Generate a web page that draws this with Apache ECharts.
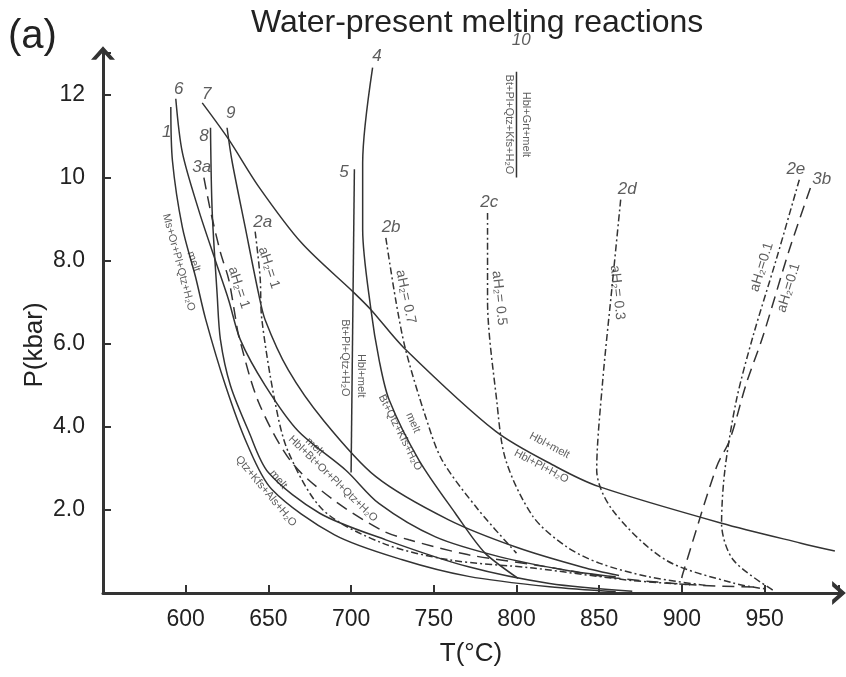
<!DOCTYPE html>
<html>
<head>
<meta charset="utf-8">
<script src="https://cdn.jsdelivr.net/npm/echarts@6/dist/echarts.min.js"></script>
<style>
  html, body { margin: 0; padding: 0; background: #fff; }
  #chart { width: 846px; height: 677px; }
</style>
</head>
<body>
<div id="chart"></div>
<script>
// curves as [T (°C), P (kbar)]
const curve1 = [[591, 11.7], [592, 10.4], [598, 8.8], [606, 7.6], [612, 6.6], [624, 5.0], [637, 3.6], [652, 2.5], [690, 1.4], [731, 0.8], [771, 0.4], [820, 0.15], [860, 0.03]]
const curve6 = [[594, 11.9], [598, 10.6], [608, 9.2], [618, 8.0], [626, 7.05], [633, 6.1], [648, 5.0], [668, 3.9], [697, 2.95], [717, 2.15], [751, 1.35], [790, 0.87], [830, 0.55], [860, 0.39]]
const curve7 = [[610, 11.8], [626, 10.92], [644, 9.79], [670, 8.43], [702, 7.22], [712, 6.82], [732, 5.9], [787.5, 3.89], [824, 3.04], [850, 2.56], [924, 1.68], [972, 1.2], [992.5, 1.01]]
const curve8 = [[615, 11.2], [616, 9.2], [619, 7.2], [621, 6.1], [627, 5.0], [638, 3.9], [650, 2.9], [681, 1.92], [721, 1.28], [771, 0.63], [820, 0.23], [870, 0.04]]
const curve9 = [[625, 11.2], [628, 10.4], [636, 8.8], [644, 7.22], [648, 6.58], [662, 5.37], [683, 4.17], [715, 2.8], [759, 1.76], [800, 1.1], [840, 0.62], [862, 0.42]]
const curve4 = [[713, 12.65], [707, 10.35], [707, 8.75], [712, 6.82], [717, 5.6], [723, 4.65], [741, 3.2], [763, 1.92], [781, 0.96], [801, 0.35]]
const line5 = [[702, 10.2], [700, 2.9]]
const line10 = [[800, 12.55], [800, 10.0]]
const curve3a = [[611, 10.0], [615, 9.2], [621, 8.2], [626, 7.55], [630, 6.65], [632, 6.2], [644, 4.6], [664, 3.15], [689, 2.25], [719, 1.5], [735, 1.28], [771, 0.92], [812, 0.67], [860, 0.36], [910, 0.19], [945, 0.14]]
const curve3b = [[977.7, 9.75], [965, 8.27], [949, 6.18], [939, 5.05], [929, 3.69], [921, 3.04], [900.6, 0.47], [899.6, 0.31]]
const curve2a = [[642, 8.7], [645, 7.6], [646, 6.6], [654, 4.6], [662, 3.4], [683, 2.0], [719, 1.2], [759, 0.8], [810, 0.6], [870, 0.3], [905, 0.2]]
const curve2b = [[721, 8.55], [727, 7.05], [733, 5.85], [745, 4.25], [755, 3.2], [777, 2.0], [800, 0.96]]
const curve2c = [[782.5, 9.15], [782.5, 7.05], [788, 4.65], [793.5, 3.2], [810, 1.84], [830, 1.12], [850, 0.72], [880, 0.39], [915, 0.18]]
const curve2d = [[863, 9.47], [858, 7.46], [852, 5.05], [848.5, 2.96], [858, 2.0], [890, 0.8], [931, 0.24], [950, 0.1]]
const curve2e = [[971, 9.95], [957, 8.02], [943, 6.18], [933, 4.65], [926, 2.96], [924, 1.68], [931, 0.8], [955, 0.07]]

// curve numbers: [text, T, P]
const curveNumbers = [
  ["1", 588.5, 11.08], ["6", 595.8, 12.12], ["7", 612.7, 12.0], ["8", 611, 11.0],
  ["9", 627.3, 11.54], ["3a", 609.7, 10.24], ["2a", 646.6, 8.92], ["4", 715.7, 12.92],
  ["5", 695.7, 10.12], ["2b", 724.2, 8.8], ["10", 802.9, 13.3], ["2c", 783.5, 9.4],
  ["2d", 867, 9.71], ["2e", 968.9, 10.19], ["3b", 984.6, 9.95],
]

// water activity labels: [text, T, P, rotation]
const activityLabels = [
  ["aH₂= 1", 650.3, 7.83, -72], ["aH₂= 1", 632.1, 7.35, -72],
  ["aH₂= 0.7", 733, 7.13, -78], ["aH₂= 0.5", 789.6, 7.1, -84],
  ["aH₂= 0.3", 861, 7.23, -84], ["aH₂=0.1", 948.3, 7.85, 73], ["aH₂=0.1", 964.6, 7.35, 73],
]

// reaction labels: [text, T, P, rotation]
const reactionLabels = [
  ["Ms+Or+Pl+Qtz+H₂O", 595.8, 7.96, -75], ["melt", 604.8, 7.98, -70],
  ["Bt+Pl+Qtz+H₂O", 696.3, 5.66, -90], ["Hbl+melt", 706, 5.23, -90],
  ["melt", 737.5, 4.1, -66], ["Bt+Qtz+Kfs+H₂O", 729.6, 3.86, -63],
  ["melt", 678, 3.52, -44], ["Hbl+Bt+Or+Pl+Qtz+H₂O", 689, 2.75, -44],
  ["melt", 656, 2.73, -50], ["Qtz+Kfs+Als+H₂O", 648.5, 2.45, -50],
  ["Hbl+melt", 820, 3.55, -28], ["Hbl+Pl+H₂O", 815, 3.05, -28],
  ["Hbl+Grt+melt", 806, 11.28, -90], ["Bt+Pl+Qtz+Kfs+H₂O", 795.6, 11.28, -90],
]

const INK = "#333"
const FONT = "Liberation Sans, Arial, sans-serif"

function curve(data, dash) {
  return {
    type: "line",
    data,
    smooth: 0.3,
    showSymbol: false,
    silent: true,
    lineStyle: { color: INK, width: 1.5, type: dash || "solid" },
  }
}

function labelSeries(list, size, italic) {
  return {
    type: "scatter",
    symbolSize: 1,
    clip: false,
    silent: true,
    itemStyle: { color: "rgba(0,0,0,0)" },
    label: {
      show: true,
      position: "inside",
      color: INK,
      fontFamily: FONT,
      fontSize: size,
      fontStyle: italic ? "italic" : "normal",
    },
    data: list.map((l) => ({
      value: [l[1], l[2]],
      label: { formatter: l[0], rotate: l[3] || 0 },
    })),
  }
}

const DASH = [12, 7]
const DASH_DOT = [7, 3, 2, 3]
// open chevron for the axis ends
const arrow = "path://M0,16 L14,0 L28,16 L22,16 L14,7 L6,16 Z"

const chart = echarts.init(document.getElementById("chart"))
chart.setOption({
  animation: false,
  title: [
    {
      text: "Water-present melting reactions",
      left: 246,
      top: 2,
      textStyle: { fontFamily: FONT, fontSize: 32, fontWeight: "normal", color: "#222" },
    },
    {
      text: "(a)",
      left: 3,
      top: 12,
      textStyle: { fontFamily: FONT, fontSize: 40, fontWeight: "normal", color: "#222" },
    },
  ],
  grid: { left: 103, right: 7, top: 53, bottom: 84, containLabel: false, outerBoundsMode: "none" },
  xAxis: {
    type: "value",
    min: 550,
    max: 995,
    interval: 50,
    name: "T(°C)",
    nameLocation: "middle",
    nameGap: 48,
    nameMoveOverlap: false,
    nameTextStyle: { fontFamily: FONT, fontSize: 26, color: "#222" },
    splitLine: { show: false },
    axisLine: {
      lineStyle: { color: INK, width: 3 },
      symbol: ["none", arrow],
      symbolSize: [24, 14],
    },
    axisTick: { inside: true, length: 8, lineStyle: { color: INK, width: 2 } },
    axisLabel: {
      fontFamily: FONT,
      fontSize: 23,
      color: "#222",
      margin: 15,
      formatter: (v) => (v < 600 || v > 950 ? "" : String(v)),
    },
  },
  yAxis: {
    type: "value",
    min: 0,
    max: 13,
    interval: 2,
    name: "P(kbar)",
    nameLocation: "middle",
    nameGap: 55,
    nameMoveOverlap: false,
    nameTextStyle: { fontFamily: FONT, fontSize: 26, color: "#222", padding: [0, 44, 0, 0] },
    splitLine: { show: false },
    axisLine: {
      lineStyle: { color: INK, width: 3 },
      symbol: ["none", arrow],
      symbolSize: [24, 14],
    },
    axisTick: { inside: true, length: 8, lineStyle: { color: INK, width: 2 } },
    axisLabel: {
      fontFamily: FONT,
      fontSize: 23,
      color: "#222",
      margin: 18,
      formatter: (v) => (v === 0 || v > 12 ? "" : v >= 10 ? String(v) : v.toFixed(1)),
    },
  },
  series: [
    curve(curve1),
    curve(curve6),
    curve(curve7),
    curve(curve8),
    curve(curve9),
    curve(curve4),
    curve(line5),
    curve(line10),
    curve(curve3a, DASH),
    curve(curve3b, DASH),
    curve(curve2a, DASH_DOT),
    curve(curve2b, DASH_DOT),
    curve(curve2c, DASH_DOT),
    curve(curve2d, DASH_DOT),
    curve(curve2e, DASH_DOT),
    labelSeries(curveNumbers, 17, true),
    labelSeries(activityLabels, 14, false),
    labelSeries(reactionLabels, 11, false),
  ],
})
</script>
</body>
</html>
